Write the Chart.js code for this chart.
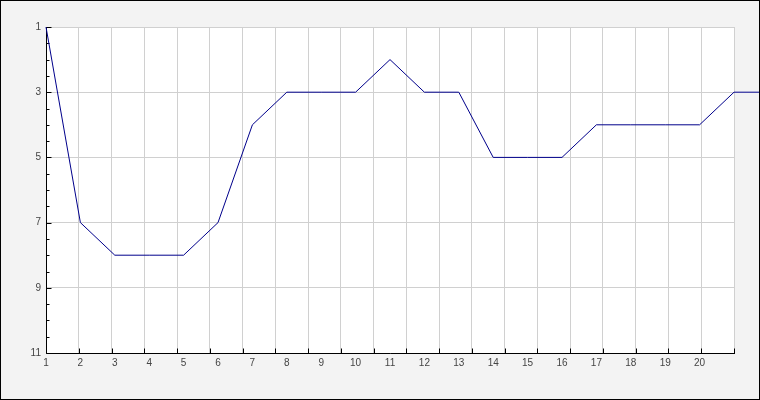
<!DOCTYPE html>
<html>
<head>
<meta charset="utf-8">
<script src="https://cdn.jsdelivr.net/npm/chart.js@4/dist/chart.umd.min.js"></script>
<style>
  html, body { margin: 0; padding: 0; background: #f3f3f3; }
  #wrap { width: 760px; height: 400px; position: relative; }
</style>
</head>
<body>
<div id="wrap"><canvas id="c" width="760" height="400"></canvas></div>
<script>
// ---- data ----
const xPositions = [1, 2, 3, 4, 5, 6, 7, 8, 9, 10, 11, 12, 13, 14, 15, 16, 17, 18, 19, 20, 21, 22];
const ranks      = [1, 7, 8, 8, 8, 7, 4, 3, 3, 3, 2, 3, 3, 5, 5, 5, 4, 4, 4, 4, 3, 3];
const xTickLabels = ['1','2','3','4','5','6','7','8','9','10','11','12','13','14','15','16','17','18','19','20'];
const yTickLabels = [1, 3, 5, 7, 9, 11];
const yGridValues = [1, 3, 5, 7, 9];
const xAxisMax = 21;

const points = xPositions.map((x, i) => ({ x: x, y: ranks[i] }));

const frame = {
  id: 'frame',
  beforeDraw(chart) {
    const { ctx, chartArea: a } = chart;
    ctx.save();
    ctx.fillStyle = '#f3f3f3';
    ctx.fillRect(0, 0, chart.width, chart.height);
    ctx.fillStyle = '#ffffff';
    ctx.fillRect(a.left, a.top, a.right - a.left, a.bottom - a.top);
    ctx.restore();
  },
  beforeDatasetsDraw(chart) {
    const { ctx, chartArea: a, scales } = chart;
    ctx.save();
    ctx.strokeStyle = '#000000';
    ctx.lineWidth = 1;
    ctx.beginPath();
    const L = Math.round(a.left) + 0.5, B = Math.round(a.bottom) + 0.5;
    ctx.moveTo(L, Math.round(a.top));
    ctx.lineTo(L, B);
    ctx.lineTo(Math.round(a.right) + 1, B);
    scales.y.ticks.forEach(t => {
      const py = Math.round(scales.y.getPixelForValue(t.value)) + 0.5;
      const len = yTickLabels.includes(t.value) ? 5 : 3;
      ctx.moveTo(L, py);
      ctx.lineTo(L + len, py);
    });
    scales.xg.ticks.forEach(t => {
      const px = Math.round(scales.xg.getPixelForValue(t.value)) + 0.5;
      ctx.moveTo(px, B);
      ctx.lineTo(px, B - 5);
    });
    ctx.stroke();
    ctx.restore();
  },
  afterDraw(chart) {
    const { ctx } = chart;
    ctx.save();
    ctx.strokeStyle = '#000000';
    ctx.lineWidth = 1;
    ctx.strokeRect(0.5, 0.5, chart.width - 1, chart.height - 1);
    ctx.restore();
  }
};

Chart.defaults.font.family = '"Liberation Sans", Arial, sans-serif';
Chart.defaults.font.size = 10;
Chart.defaults.color = '#444444';

new Chart(document.getElementById('c'), {
  type: 'line',
  data: {
    datasets: [{
      data: points,
      xAxisID: 'x',
      yAxisID: 'y',
      borderColor: '#00008b',
      borderWidth: 1,
      pointRadius: 0,
      tension: 0,
      fill: false,
      clip: false
    }]
  },
  options: {
    responsive: false,
    animation: false,
    devicePixelRatio: 1,
    layout: { padding: { top: 27, right: 26, left: 0, bottom: 0 } },
    plugins: { legend: { display: false }, tooltip: { enabled: false } },
    scales: {
      x: {
        type: 'linear',
        position: 'bottom',
        weight: 1,
        min: 1,
        afterDataLimits(s) { s.max = xAxisMax; },
        afterFit(s) { s.height = 47; },
        ticks: {
          stepSize: 1,
          autoSkip: false,
          maxRotation: 0,
          padding: 4,
          callback: (v) => xTickLabels[v - 1] !== undefined ? xTickLabels[v - 1] : ''
        },
        grid: { display: false, drawTicks: false },
        border: { display: false }
      },
      xg: {
        type: 'linear',
        position: 'bottom',
        weight: 0,
        min: 0,
        max: xAxisMax,
        afterFit(s) { s.height = 0; },
        ticks: { display: false, stepSize: 1 },
        grid: {
          drawTicks: false,
          color: (c) => (c.tick && c.tick.value === 0) ? 'rgba(0,0,0,0)' : '#d0d0d0'
        },
        border: { display: false }
      },
      y: {
        type: 'linear',
        reverse: true,
        min: 1,
        max: 11,
        afterFit(s) { s.width = 46; },
        ticks: {
          stepSize: 0.5,
          autoSkip: false,
          padding: 5,
          callback: (v) => yTickLabels.includes(v) ? String(v) : ''
        },
        grid: {
          drawTicks: false,
          color: (c) => (c.tick && yGridValues.includes(c.tick.value)) ? '#d0d0d0' : 'rgba(0,0,0,0)'
        },
        border: { display: false }
      }
    }
  },
  plugins: [frame]
});
</script>
</body>
</html>
